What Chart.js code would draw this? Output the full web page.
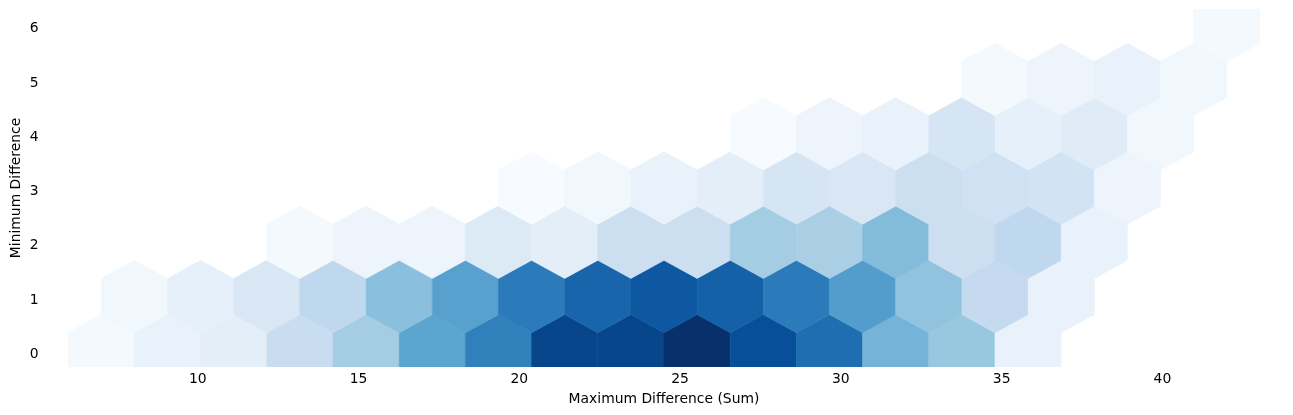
<!DOCTYPE html>
<html><head><meta charset="utf-8">
<script src="https://cdn.jsdelivr.net/npm/chart.js@4.4.1/dist/chart.umd.min.js"></script>
<style>html,body{margin:0;padding:0;background:#fff;}canvas{display:block}</style>
</head><body>
<canvas id="c" width="1293" height="415"></canvas>
<script>
// ---- axis labels & ticks ----
const X_TITLE = 'Maximum Difference (Sum)';
const Y_TITLE = 'Minimum Difference';
const X_TICKS = [10, 15, 20, 25, 30, 35, 40];
const Y_TICKS = [0, 1, 2, 3, 4, 5, 6];

// ---- hexbin grid (matplotlib style): data extent x 7..42 (17 bins), y 0..6 (3 bins) ----
const GRID_X_MIN = 7, GRID_X_MAX = 42, GRID_NX = 17;
const GRID_Y_MIN = 0, GRID_Y_MAX = 6, GRID_NY = 3;

// ---- counts per hex row (row value = Minimum Difference), with first column index ----
const ROW_Y      = [0, 1, 2, 3, 4, 5, 6];
const ROW_START  = [0, 0, 3, 6, 10, 13, 17];
const counts_y0 = [2, 5, 7, 15, 22, 33, 42, 55, 55, 60, 53, 46, 29, 24, 5];
const counts_y1 = [3, 6, 10, 17, 26, 34, 43, 48, 51, 49, 43, 35, 25, 16, 5];
const counts_y2 = [2, 4, 4, 9, 7, 14, 14, 22, 21, 27, 14, 17, 5];
const counts_y3 = [1, 3, 5, 7, 11, 10, 14, 13, 12, 4];
const counts_y4 = [1, 4, 5, 11, 6, 8, 3];
const counts_y5 = [2, 4, 5, 3];
const counts_y6 = [2];
const ROW_COUNTS = [counts_y0, counts_y1, counts_y2, counts_y3, counts_y4, counts_y5, counts_y6];

// ---- build hex centers from the bin lattice ----
const SX = (GRID_X_MAX - GRID_X_MIN) / GRID_NX;
const SY = (GRID_Y_MAX - GRID_Y_MIN) / GRID_NY;
const hexPoints = [];
ROW_Y.forEach((yv, r) => {
  const odd = Math.round((yv - GRID_Y_MIN) / (SY / 2)) % 2 === 1;
  ROW_COUNTS[r].forEach((c, k) => {
    const i = ROW_START[r] + k;
    hexPoints.push({ x: GRID_X_MIN + (i + (odd ? 0.5 : 0)) * SX, y: yv, c: c });
  });
});
const allCounts = hexPoints.map(p => p.c);
const CMIN = Math.min(...allCounts), CMAX = Math.max(...allCounts);

// ---- Blues colormap ----
const BLUES = [[247,251,255],[222,235,247],[198,219,239],[158,202,225],[107,174,214],[66,146,198],[33,113,181],[8,81,156],[8,48,107]];
function blues(t) {
  t = Math.max(0, Math.min(1, t));
  const f = t * (BLUES.length - 1);
  const i = Math.min(BLUES.length - 2, Math.floor(f));
  const u = f - i;
  const a = BLUES[i], b = BLUES[i + 1];
  return 'rgb(' + [0,1,2].map(k => Math.round(a[k] + (b[k] - a[k]) * u)).join(',') + ')';
}

// hexagon vertices in data units (matplotlib hexbin polygon)
const HEX = [[0.5,-0.5],[0.5,0.5],[0,1],[-0.5,0.5],[-0.5,-0.5],[0,-1]].map(([a,b]) => [a * SX, b * SY / 3]);

const hexPlugin = {
  id: 'hexbin',
  beforeDatasetsDraw(chart) {
    const {ctx, chartArea, scales: {x, y}} = chart;
    ctx.save();
    ctx.beginPath();
    ctx.rect(chartArea.left, chartArea.top, chartArea.right - chartArea.left, chartArea.bottom - chartArea.top);
    ctx.clip();
    chart.data.datasets[0].data.forEach(p => {
      const col = blues((p.c - CMIN) / (CMAX - CMIN));
      ctx.beginPath();
      HEX.forEach(([dx, dy], k) => {
        const px = x.getPixelForValue(p.x + dx), py = y.getPixelForValue(p.y + dy);
        if (k === 0) ctx.moveTo(px, py); else ctx.lineTo(px, py);
      });
      ctx.closePath();
      ctx.fillStyle = col;
      ctx.strokeStyle = col;
      ctx.lineWidth = 0.6;
      ctx.fill();
      ctx.stroke();
    });
    ctx.restore();
  }
};

const FONT = { family: 'DejaVu Sans', size: 13.9 };
function noPad(s) { s.paddingTop = 0; s.paddingBottom = 0; s.paddingLeft = 0; s.paddingRight = 0; }

new Chart(document.getElementById('c'), {
  type: 'scatter',
  data: { datasets: [{ data: hexPoints, pointRadius: 0, pointHoverRadius: 0 }] },
  options: {
    responsive: false,
    devicePixelRatio: 1,
    animation: false,
    events: [],
    layout: { padding: { top: 9, right: 10, left: 0, bottom: 0 } },
    plugins: { legend: { display: false }, tooltip: { enabled: false } },
    scales: {
      x: {
        type: 'linear', min: 5.25, max: 43.75,
        afterBuildTicks: s => { s.ticks = X_TICKS.map(v => ({ value: v })); },
        afterFit: s => { s.height = 48; noPad(s); },
        grid: { display: false, drawTicks: false },
        border: { display: false },
        ticks: { color: '#000', font: FONT, padding: 4, maxRotation: 0, autoSkip: false },
        title: { display: true, text: X_TITLE, color: '#000', font: FONT, padding: { top: 0, bottom: 7.4 } }
      },
      y: {
        type: 'linear', min: -0.3, max: 6.3,
        afterBuildTicks: s => { s.ticks = Y_TICKS.map(v => ({ value: v })); },
        afterFit: s => { s.width = 45; noPad(s); },
        grid: { display: false, drawTicks: false },
        border: { display: false },
        ticks: { color: '#000', font: FONT, padding: 6.5, labelOffset: 3.5, autoSkip: false },
        title: { display: true, text: Y_TITLE, color: '#000', font: FONT, padding: { top: 7.7, bottom: 0 } }
      }
    }
  },
  plugins: [hexPlugin]
});
</script>
</body></html>
